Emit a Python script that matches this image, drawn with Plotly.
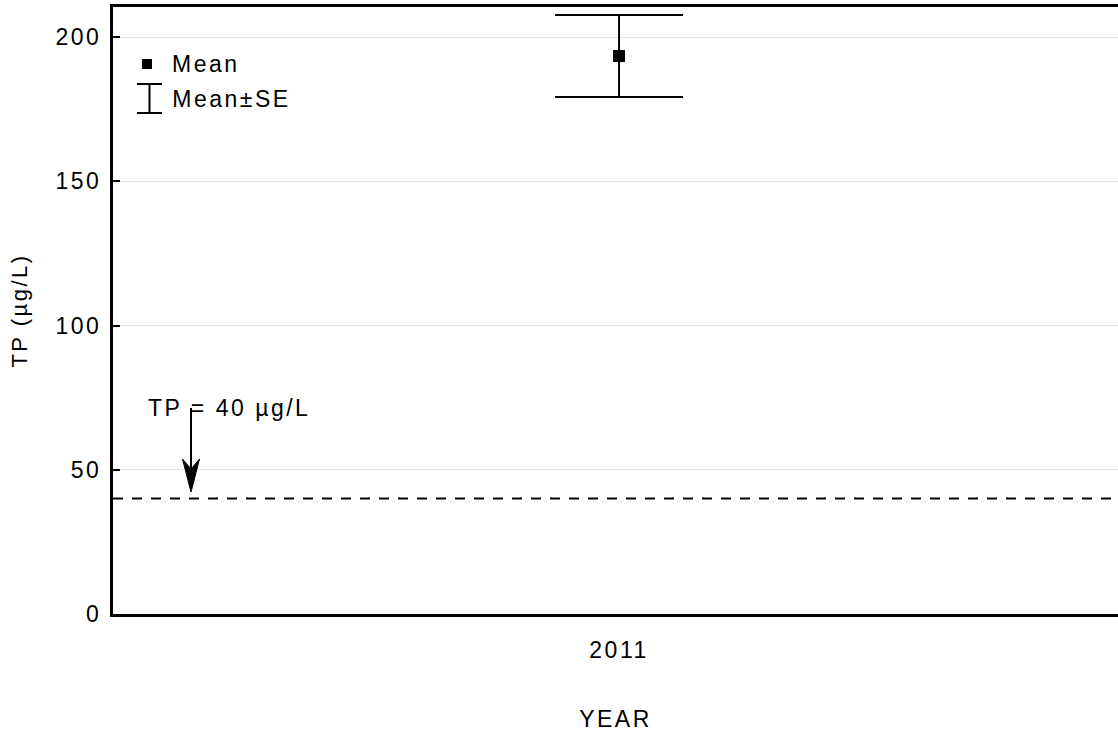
import plotly.graph_objects as go

# Total phosphorus summary for the sampling year
years = [2011]
tp_mean = [193.4]
tp_se = [14.2]

# Reference threshold
tp_threshold = 40
threshold_label = "TP = 40 µg/L"

y_ticks = [0, 50, 100, 150, 200]

FONT = "Arial, Liberation Sans, sans-serif"
FS = 23
TRACK = 2.5  # letter spacing in px

# plot-area geometry helpers (pixel -> paper)
L, R, T, B = 113, 1118, 7, 614


def px(x):
    return (x - L) / (R - L)


def py(y):
    return (B - y) / (B - T)


fig = go.Figure()

fig.add_trace(go.Scatter(
    x=years, y=tp_mean,
    mode="markers",
    marker=dict(symbol="square", size=12, color="black"),
    error_y=dict(type="data", array=tp_se, visible=True,
                 color="black", thickness=2, width=64),
    showlegend=False,
))

# dashed threshold line across the plot
fig.add_shape(type="line", xref="paper", x0=0, x1=1,
              yref="y", y0=tp_threshold, y1=tp_threshold,
              line=dict(color="black", width=2, dash="10px,9px"))

# arrow pointing down at the threshold line
ax = 191
fig.add_shape(type="line", xref="paper", yref="paper",
              x0=px(ax), x1=px(ax), y0=py(408), y1=py(472),
              line=dict(color="black", width=2))
fig.add_shape(type="path", xref="paper", yref="paper",
              path=(f"M {px(ax)},{py(492)} L {px(ax - 8.5)},{py(459)} "
                    f"L {px(ax)},{py(469)} L {px(ax + 8.5)},{py(459)} Z"),
              fillcolor="black", line=dict(color="black", width=1))


def label(text, x, y, yref="paper"):
    fig.add_annotation(x=x, xref="paper", y=y, yref=yref, text=text,
                       showarrow=False, xanchor="left", yanchor="middle",
                       xshift=len(text) * TRACK / 2,
                       font=dict(family=FONT, size=FS, color="black"))


label(threshold_label, px(146), 71.5, yref="y")

# legend drawn in plot coordinates
fig.add_shape(type="rect", xref="paper", yref="paper",
              x0=px(142), x1=px(152), y0=py(69), y1=py(59),
              fillcolor="black", line=dict(width=0))
for yy in (84, 113):
    fig.add_shape(type="line", xref="paper", yref="paper",
                  x0=px(137), x1=px(162), y0=py(yy), y1=py(yy),
                  line=dict(color="black", width=2))
fig.add_shape(type="line", xref="paper", yref="paper",
              x0=px(149.5), x1=px(149.5), y0=py(84), y1=py(113),
              line=dict(color="black", width=2))
label("Mean", px(170), py(64))
label("Mean±SE", px(170), py(99))

fig.update_layout(
    width=1118, height=734,
    margin=dict(l=L, r=0, t=T, b=734 - B),
    plot_bgcolor="white", paper_bgcolor="white",
    font=dict(family=FONT, size=FS, color="black"),
    xaxis=dict(
        range=[2010.5, 2011.493],
        tickvals=years, ticktext=[str(y) for y in years],
        ticks="", showgrid=False, zeroline=False,
        showline=True, linecolor="black", linewidth=3, mirror=True,
        ticklabelstandoff=13,
        tickfont=dict(size=FS),
        title=dict(text="YEAR", standoff=50, font=dict(size=FS)),
    ),
    yaxis=dict(
        range=[0, 210.4],
        tickvals=y_ticks,
        ticks="inside", ticklen=7, tickwidth=2, tickcolor="black",
        showgrid=True, gridcolor="#e3e3e3", gridwidth=1,
        zeroline=False,
        showline=True, linecolor="black", linewidth=3, mirror=False,
        ticklabelstandoff=4,
        tickfont=dict(size=FS),
        title=dict(text="TP (µg/L)", standoff=30, font=dict(size=22)),
    ),
)

# wide tracking on all chart text
spacing_js = """
document.querySelectorAll('.main-svg text').forEach(function (t) {
  t.style.letterSpacing = '%spx';
});
""" % TRACK

fig.write_html("out.html", post_script=spacing_js)
